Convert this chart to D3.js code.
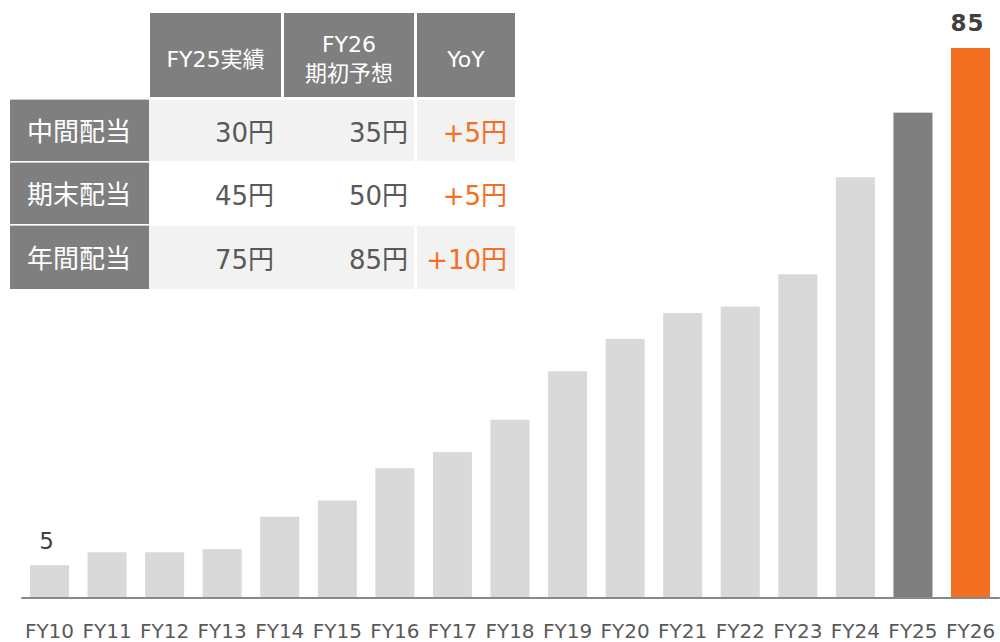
<!DOCTYPE html>
<html>
<head>
<meta charset="utf-8">
<script src="https://cdn.jsdelivr.net/npm/d3@7"></script>
<style>
  body { margin: 0; background: #fff; }
  svg { display: block; font-family: "DejaVu Sans", "Noto Sans CJK JP", sans-serif; }
</style>
</head>
<body>
<svg id="chart" width="1000" height="642"></svg>
<script>
/* Data */
const years = ["FY10","FY11","FY12","FY13","FY14","FY15","FY16","FY17","FY18","FY19","FY20","FY21","FY22","FY23","FY24","FY25","FY26"];
const dividends = [5, 7, 7, 7.5, 12.5, 15, 20, 22.5, 27.5, 35, 40, 44, 45, 50, 65, 75, 85];
const labelledYears = ["FY10", "FY26"];

const tableHeaders = [["FY25実績"], ["FY26", "期初予想"], ["YoY"]];
const tableRowLabels = ["中間配当", "期末配当", "年間配当"];
const fy25Actual = [30, 45, 75];
const fy26Forecast = [35, 50, 85];
const yoyChange = [5, 5, 10];

/* Parameters and scales */
const svg = d3.select("#chart");
const baseline = 597.5;
const grey = "#d9d9d9", dark = "#7f7f7f", orange = "#f37021", txt = "#595959";

const x = d3.scaleBand()
            .domain(years)
            .range([20.7, 999.3])
            .paddingInner(0.322)
            .paddingOuter(0.161);
const y = d3.scaleLinear()
            .domain([0, d3.max(dividends)])
            .range([baseline, 48]);

const barColor = d => d === "FY26" ? orange : (d === "FY25" ? dark : grey);

// bars
svg.append("g")
  .selectAll("rect")
  .data(years)
  .join("rect")
  .attr("x", d => x(d))
  .attr("y", (d, i) => y(dividends[i]))
  .attr("width", x.bandwidth())
  .attr("height", (d, i) => baseline - y(dividends[i]))
  .attr("fill", barColor);

// x axis
const xAxis = svg.append("g")
  .attr("transform", `translate(0,${baseline})`)
  .call(d3.axisBottom(x).tickSize(0).tickSizeOuter(0).tickPadding(26));
xAxis.select(".domain").attr("stroke", "#898989").attr("stroke-width", 2);
xAxis.selectAll("text")
  .attr("fill", txt)
  .attr("font-size", 20)
  .attr("font-family", "'DejaVu Sans', sans-serif");

// value labels
svg.append("g")
  .selectAll("text")
  .data(labelledYears)
  .join("text")
  .attr("x", d => x(d) + x.bandwidth() / 2 - 3)
  .attr("y", d => y(dividends[years.indexOf(d)]) - (d === "FY26" ? 17 : 16))
  .attr("text-anchor", "middle")
  .attr("fill", "#404040")
  .attr("font-size", d => d === "FY26" ? 23 : 23)
  .attr("font-weight", d => d === "FY26" ? "bold" : "normal")
  .attr("letter-spacing", d => d === "FY26" ? 1 : 0)
  .text(d => dividends[years.indexOf(d)]);

/* Table */
const tbl = svg.append("g");
const colX = [[150, 281], [284, 414], [417, 515]];
const cellX = [[149, 283], [283, 414], [417, 515]];
const rowY = [[100, 161], [163, 224], [226, 289]];

// header
colX.forEach((c, i) => {
  tbl.append("rect").attr("x", c[0]).attr("y", 13).attr("width", c[1] - c[0]).attr("height", 84).attr("fill", dark);
  const lines = tableHeaders[i];
  const cy = 59;
  lines.forEach((l, j) => {
    tbl.append("text")
      .attr("x", (c[0] + c[1]) / 2)
      .attr("y", cy + (j - (lines.length - 1) / 2) * 29)
      .attr("dy", "0.36em")
      .attr("text-anchor", "middle")
      .attr("fill", "#fff")
      .attr("font-size", 22)
      .text(l);
  });
});

// body rows
tableRowLabels.forEach((lab, r) => {
  const [y0, y1] = rowY[r];
  const ym = (y0 + y1) / 2;
  tbl.append("rect").attr("x", 10).attr("y", y0).attr("width", 139).attr("height", y1 - y0).attr("fill", dark);
  tbl.append("line").attr("x1", 10).attr("x2", 149).attr("y1", y0 - 0.5).attr("y2", y0 - 0.5).attr("stroke", "#d0d0d0");
  tbl.append("text")
    .attr("x", 79).attr("y", ym + 1).attr("dy", "0.36em")
    .attr("text-anchor", "middle").attr("fill", "#fff").attr("font-size", 26)
    .text(lab);
  if (r !== 1) {
    cellX.forEach(c => {
      tbl.append("rect").attr("x", c[0]).attr("y", y0).attr("width", c[1] - c[0]).attr("height", y1 - y0).attr("fill", "#f2f2f2");
    });
  }
  const vals = [fy25Actual[r] + "円", fy26Forecast[r] + "円", "+" + yoyChange[r] + "円"];
  const rightEdge = [274, 408, 507];
  vals.forEach((v, i) => {
    tbl.append("text")
      .attr("x", rightEdge[i]).attr("y", ym + 2).attr("dy", "0.36em")
      .attr("text-anchor", "end")
      .attr("fill", i === 2 ? orange : txt)
      .attr("font-size", 26)
      .text(v);
  });
});
</script>
</body>
</html>
